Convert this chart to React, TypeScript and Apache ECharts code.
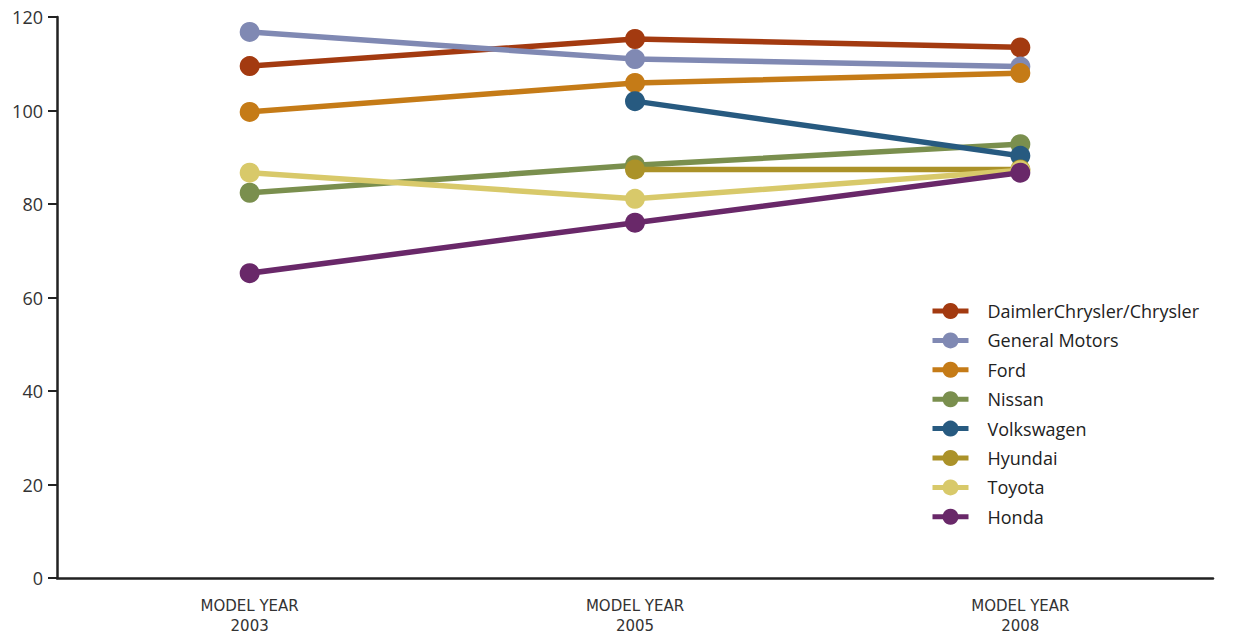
import React, { useEffect, useRef } from "react";
import * as echarts from "echarts";

const categories = ["MODEL YEAR\n2003", "MODEL YEAR\n2005", "MODEL YEAR\n2008"];
const yTicks = { min: 0, max: 120, interval: 20 };

const seriesNames = [
  "DaimlerChrysler/Chrysler",
  "General Motors",
  "Ford",
  "Nissan",
  "Volkswagen",
  "Hyundai",
  "Toyota",
  "Honda",
];

const daimler = [109.5, 115.3, 113.5];
const gm = [116.8, 111.0, 109.4];
const ford = [99.7, 105.9, 108.0];
const nissan = [82.4, 88.3, 92.8];
const volkswagen = [null, 102.0, 90.3];
const hyundai = [null, 87.4, 87.4];
const toyota = [86.7, 81.1, 87.2];
const honda = [65.2, 76.0, 86.7];

const seriesValues = [daimler, gm, ford, nissan, volkswagen, hyundai, toyota, honda];

const colors = [
  "#A33A10",
  "#8089B3",
  "#C57B17",
  "#7A8F4E",
  "#275A80",
  "#AB9229",
  "#D8C96A",
  "#692869",
];

export default function App() {
  const ref = useRef<HTMLDivElement>(null);

  useEffect(() => {
    if (!ref.current) return;
    document.body.style.margin = "0";
    const chart = echarts.init(ref.current, null, { renderer: "svg" });
    chart.setOption({
      animation: false,
      backgroundColor: "#ffffff",
      grid: {
        left: 57,
        right: 21,
        top: 17,
        bottom: 59,
        containLabel: false,
        outerBoundsMode: "none",
      },
      legend: {
        orient: "vertical",
        left: 925,
        top: 297,
        itemWidth: 36,
        itemHeight: 20,
        itemGap: 11.4,
        data: seriesNames,
        lineStyle: { width: 5 },
        textStyle: {
          fontFamily: "Open Sans",
          fontSize: 18,
          color: "#222",
          padding: [0, 0, 0, 14],
        },
      },
      xAxis: {
        type: "category",
        data: categories,
        boundaryGap: true,
        axisLine: { lineStyle: { color: "#222", width: 2.5 } },
        axisTick: {
          alignWithLabel: true,
          length: 10,
          lineStyle: { color: "#222", width: 2 },
        },
        axisLabel: {
          margin: 18,
          fontFamily: "DejaVu Sans",
          fontSize: 15,
          lineHeight: 20,
          color: "#333",
        },
        splitLine: { show: false },
      },
      yAxis: {
        type: "value",
        min: yTicks.min,
        max: yTicks.max,
        interval: yTicks.interval,
        axisLine: { show: true, lineStyle: { color: "#222", width: 2.5 } },
        axisTick: { show: true, length: 9, lineStyle: { color: "#222", width: 2 } },
        axisLabel: {
          margin: 14,
          fontFamily: "Open Sans",
          fontSize: 18,
          color: "#333",
        },
        splitLine: { show: false },
      },
      series: seriesNames.map((name, i) => ({
        name,
        type: "line",
        data: seriesValues[i],
        color: colors[i],
        symbol: "circle",
        symbolSize: 20,
        showSymbol: true,
        connectNulls: false,
        lineStyle: { width: 5.5, color: colors[i] },
        itemStyle: { color: colors[i] },
        z: 2 + i,
      })),
    });
    return () => chart.dispose();
  }, []);

  return <div ref={ref} style={{ width: 1234, height: 637 }} />;
}
